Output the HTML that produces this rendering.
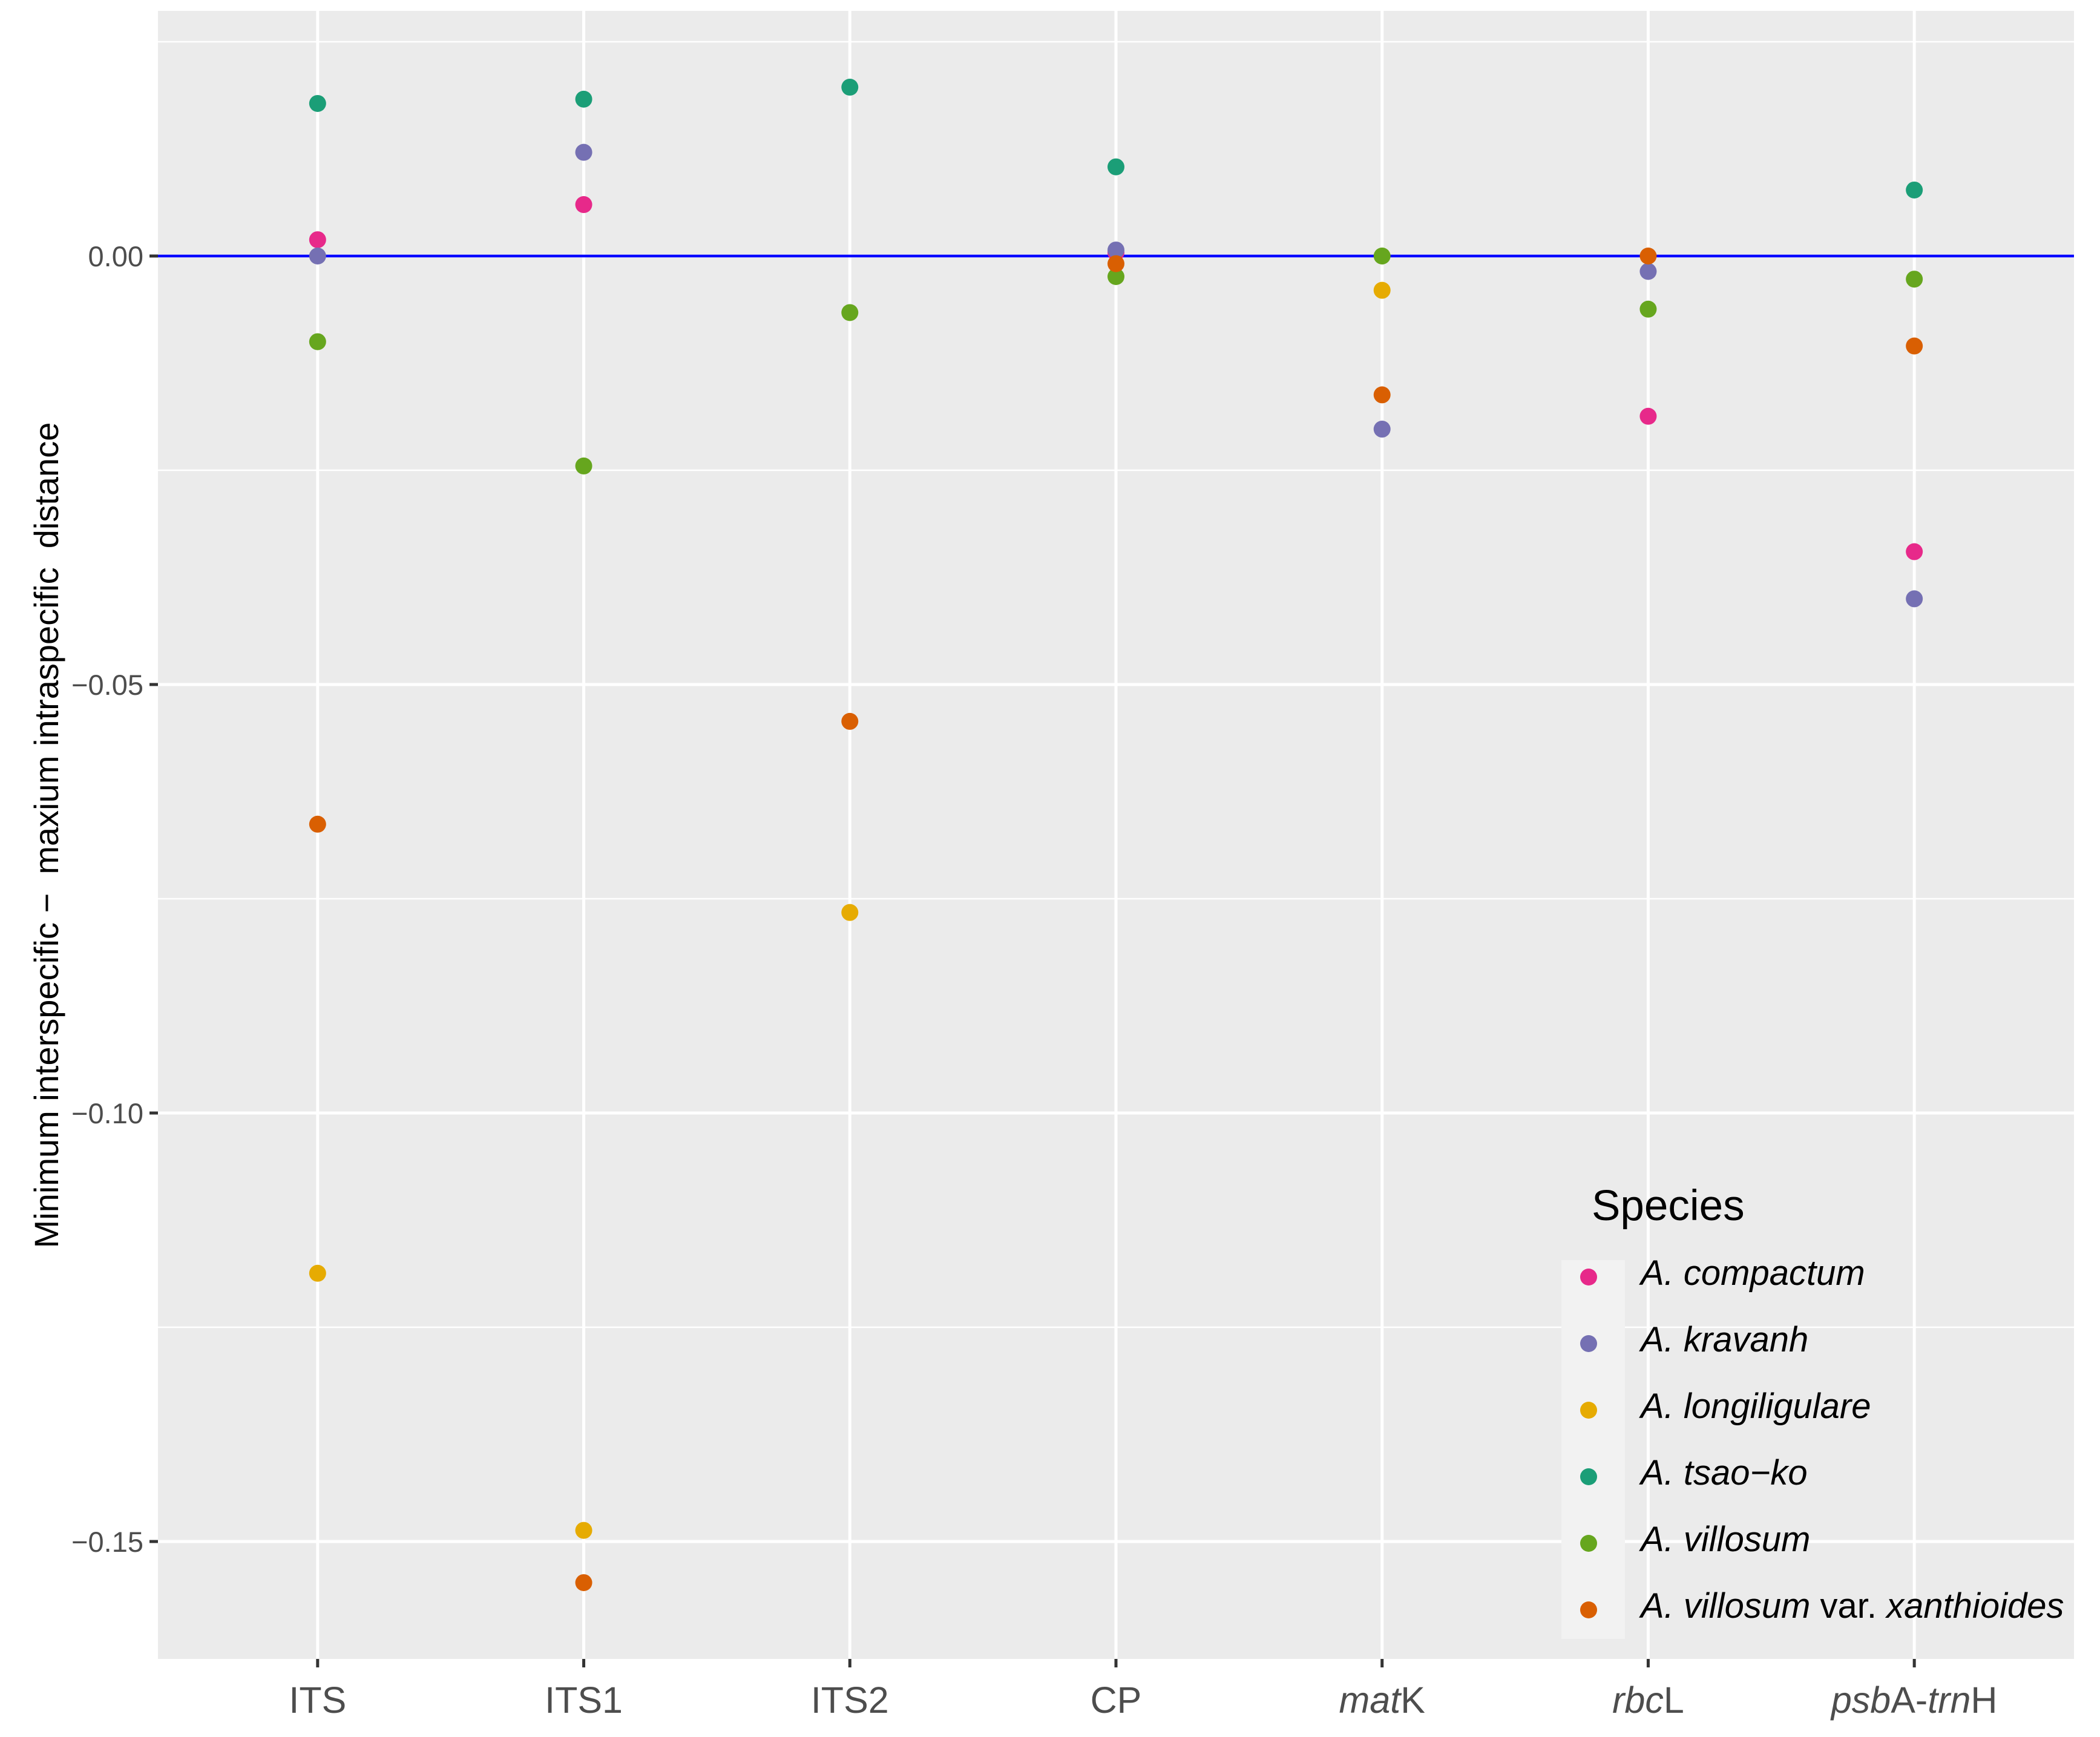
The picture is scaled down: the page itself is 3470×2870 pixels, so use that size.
<!DOCTYPE html>
<html><head><meta charset="utf-8"><style>
html,body{margin:0;padding:0;background:#fff;}
svg{display:block;font-family:"Liberation Sans",Arial,sans-serif;}
</style></head><body>
<svg id="chart" width="3470" height="2870" viewBox="0 0 3470 2870" xmlns="http://www.w3.org/2000/svg">
<rect x="0" y="0" width="3470" height="2870" fill="#ffffff"/>
<rect x="261" y="18" width="3166" height="2723" fill="#ebebeb"/>
<g id="grid"></g>
<g id="points"></g>
<g id="axes"></g>
<text x="0" y="0" transform="translate(96,1380) rotate(-90)" text-anchor="middle" font-size="56" fill="#000" xml:space="preserve">Minimum interspecific −  maxium intraspecific  distance</text>
<g id="legend">
<text x="2630" y="2016" font-size="71" fill="#000">Species</text>
<rect x="2580" y="2082" width="105" height="626" fill="#f2f2f2"/>
</g>
</svg>
<script>
const categories = ["ITS","ITS1","ITS2","CP","matK","rbcL","psbA-trnH"];
const species = ["A. compactum","A. kravanh","A. longiligulare","A. tsao-ko","A. villosum","A. villosum var. xanthioides"];
const colors = ["#E7298A","#7570B3","#E6AB02","#1B9E77","#66A61E","#D95F02"];
const compactum    = [0.0019, 0.0060, null, 0.0004, null, -0.0187, -0.0345];
const kravanh      = [0.0000, 0.0121, null, 0.0007, -0.0202, -0.0018, -0.0400];
const longiligulare= [-0.1187, -0.1487, -0.0766, null, -0.0040, null, null];
const tsaoko       = [0.0178, 0.0183, 0.0197, 0.0104, null, null, 0.0077];
const villosum     = [-0.0100, -0.0245, -0.0066, -0.0024, 0.0000, -0.0062, -0.0027];
const xanthioides  = [-0.0663, -0.1548, -0.0543, -0.0009, -0.0162, 0.0000, -0.0105];
const seriesValues = [compactum, kravanh, longiligulare, tsaoko, villosum, xanthioides];
const yMajorTicks = [0, -0.05, -0.10, -0.15];
const yTickLabels = ["0.00","\u22120.05","\u22120.10","\u22120.15"];
const yMinorTicks = [0.025, -0.025, -0.075, -0.125];

const NS="http://www.w3.org/2000/svg";
const L=261,R=3427,T=18,B=2741;
const step=(R-L)/(categories.length+0.2);
function xPos(i){return L+(i+0.6)*step;}
function yPos(v){return 423 - v*14160;}
function mk(tag,attrs,parent){const e=document.createElementNS(NS,tag);for(const k in attrs)e.setAttribute(k,attrs[k]);parent.appendChild(e);return e;}
const grid=document.getElementById('grid'),pts=document.getElementById('points'),axes=document.getElementById('axes'),legend=document.getElementById('legend');

yMinorTicks.forEach(v=>{const l=mk('line',{x1:L,x2:R,y1:yPos(v),y2:yPos(v),stroke:'#fff','stroke-width':2.5},grid);

});
yMajorTicks.forEach((v,i)=>{const y=yPos(v);
const l=mk('line',{x1:L,x2:R,y1:y,y2:y,stroke:'#fff','stroke-width':5},grid);


const t=mk('line',{x1:247,x2:261,y1:y,y2:y,stroke:'#333','stroke-width':5},axes);


const tx=mk('text',{x:237,y:y+17,'text-anchor':'end','font-size':47,fill:'#4d4d4d'},axes);
tx.textContent=yTickLabels[i];

});
const xLabelHTML=["ITS","ITS1","ITS2","CP","<tspan font-style='italic'>mat</tspan>K","<tspan font-style='italic'>rbc</tspan>L","<tspan font-style='italic'>psb</tspan>A-<tspan font-style='italic'>trn</tspan>H"];
categories.forEach((c,i)=>{const x=xPos(i);
const l=mk('line',{x1:x,x2:x,y1:T,y2:B,stroke:'#fff','stroke-width':5},grid);


const t=mk('line',{x1:x,x2:x,y1:B,y2:B+14,stroke:'#333','stroke-width':5},axes);


const tx=mk('text',{x:x,y:2830,'text-anchor':'middle','font-size':61,fill:'#4d4d4d'},axes);
tx.innerHTML=xLabelHTML[i];

});
const zl=mk('line',{x1:L,x2:R,y1:yPos(0),y2:yPos(0),stroke:'#0000ff','stroke-width':4.5},grid);



seriesValues.forEach((arr,s)=>{arr.forEach((v,i)=>{if(v===null)return;
const p=mk('circle',{cx:xPos(i),cy:yPos(v),r:14,fill:colors[s]},pts);

});});

const legHTML=["<tspan font-style='italic'>A. compactum</tspan>","<tspan font-style='italic'>A. kravanh</tspan>","<tspan font-style='italic'>A. longiligulare</tspan>","<tspan font-style='italic'>A. tsao\u2212ko</tspan>","<tspan font-style='italic'>A. villosum</tspan>","<tspan font-style='italic'>A. villosum</tspan> var. <tspan font-style='italic'>xanthioides</tspan>"];
species.forEach((s,i)=>{const y=2110+i*110;
const k=mk('circle',{cx:2625,cy:y,r:14,fill:colors[i]},legend);


const t=mk('text',{x:2711,y:y+13,'font-size':58,fill:'#000'},legend);
t.innerHTML=legHTML[i];

});
</script>
</body></html>
